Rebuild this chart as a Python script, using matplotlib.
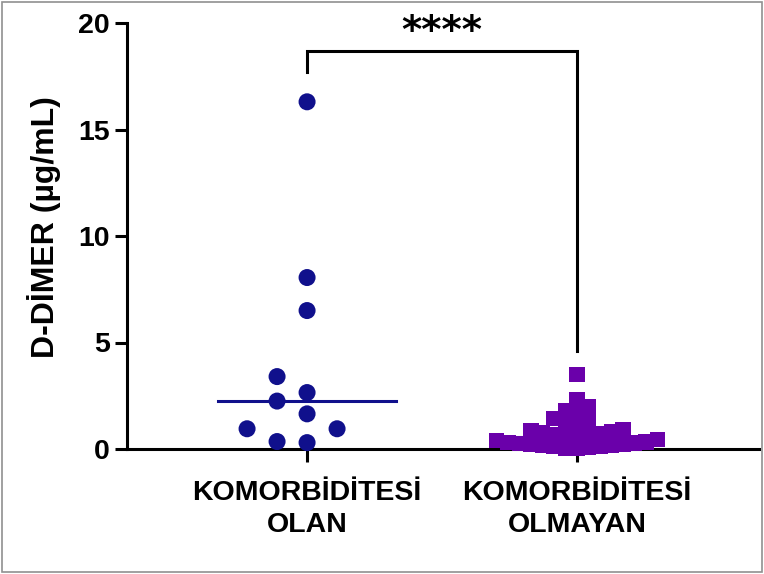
import numpy as np
import matplotlib.pyplot as plt
from matplotlib.patches import Rectangle

plt.rcParams['font.family'] = ['Liberation Sans', 'DejaVu Sans']
plt.rcParams['font.weight'] = 'bold'

# data
groups = ['KOMORBİDİTESİ\nOLAN', 'KOMORBİDİTESİ\nOLMAYAN']
olan = [16.3, 8.05, 6.5, 3.4, 2.65, 2.25, 1.65, 0.95, 0.95, 0.3, 0.35]
olmayan = [0.02, 0.05, 0.08, 0.1, 0.12, 0.15, 0.18, 0.2, 0.22, 0.25, 0.28, 0.3,
           0.33, 0.4, 0.45, 0.5, 0.55, 0.62, 0.66, 0.7, 0.75, 0.8, 0.85, 0.9,
           1.0, 1.15, 1.3, 1.45, 1.6, 1.8, 2.0, 2.3, 3.5]
colors = ['#10108c', '#6a00aa']
stars = '****'

fig = plt.figure(figsize=(7.64, 5.74), dpi=100)
ax = fig.add_axes([127/764, 1-449/574, 632/764, 426/574])
ax.set_xlim(-0.667, 1.674)
ax.set_ylim(0, 20)

bb = ax.get_window_extent()
px_x = bb.width / (1.674 + 0.667)
px_y = bb.height / 20


def swarm(vals, dx, dy):
    # simple column-scatter layout in pixel space (rectangular spacing)
    placed = []
    out = {}
    order = np.argsort(vals, kind='stable')
    for i in order:
        y = vals[i] * px_y
        near = [px for px, py in placed if abs(py - y) < dy]
        cands = [0.0]
        for px in near:
            cands += [px + dx, px - dx]
        cands.sort(key=lambda c: (round(abs(c), 6), c))
        for c in cands:
            if all(abs(c - px) >= dx - 1e-6 for px in near):
                break
        placed.append((c, y))
        out[i] = c
    return np.array([out[i] for i in range(len(vals))]) / px_x


off1 = swarm(olan, 30, 17)
off2 = swarm(olmayan, 11.5, 10)

ax.scatter(0 + off1, olan, s=150, marker='o', color=colors[0], edgecolors='none',
           zorder=3, clip_on=False)
ax.scatter(1 + off2, olmayan, s=120, marker='s', color=colors[1], edgecolors='none',
           zorder=3, clip_on=False)

ax.plot([-0.33, 0.33], [np.median(olan)] * 2, color=colors[0], lw=2.2, zorder=2)
ax.plot([1 - 0.3, 1 + 0.3], [np.median(olmayan)] * 2, color=colors[1], lw=2.2, zorder=2)

# significance bracket
ax.plot([0, 0, 1, 1], [17.7, 18.7, 18.7, 4.6], color='black', lw=2.2,
        clip_on=False, solid_joinstyle='miter')
ax.text(0.5, 19.6, stars, ha='center', va='center', fontsize=28, fontweight='bold',
        family='DejaVu Sans', clip_on=False)

ax.spines['top'].set_visible(False)
ax.spines['right'].set_visible(False)
for s in ['left', 'bottom']:
    ax.spines[s].set_linewidth(2.2)
ax.tick_params(width=2.2, length=9, labelsize=20.5)
ax.tick_params(axis='x', pad=13)
ax.set_yticks([0, 5, 10, 15, 20])
ax.set_xticks([0, 1])
ax.set_xticklabels(groups, fontsize=20.5, fontweight='bold', linespacing=1.3)
ax.set_ylabel('D-DİMER (µg/mL)', fontsize=23, fontweight='bold')
ax.yaxis.set_label_coords(-0.105, 0.52)
for t in ax.get_yticklabels():
    t.set_fontweight('bold')

fig.patches.append(Rectangle((0.003, 0.003), 0.994, 0.994, transform=fig.transFigure,
                             fill=False, edgecolor='#909090', lw=1.2))

fig.savefig('out.png', dpi=100)
